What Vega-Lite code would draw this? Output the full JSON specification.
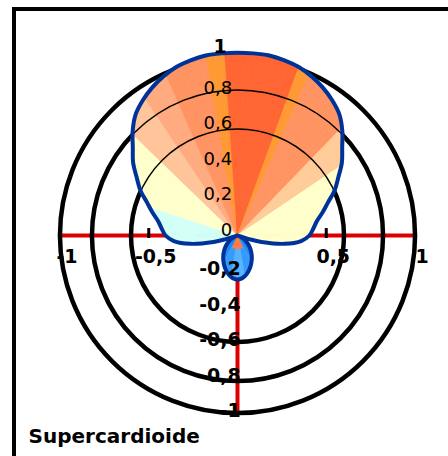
{
  "$schema": "https://vega.github.io/schema/vega-lite/v6.json",
  "width": 434,
  "height": 447,
  "autosize": {"type": "none"},
  "padding": {"left": 14, "top": 9, "right": 0, "bottom": 0},
  "background": "white",
  "config": {"view": {"stroke": null}},
  "datasets": {
    "circles": [{"r": 0.6}, {"r": 0.82}, {"r": 1.0}],
    "thin": [{"r": 0.6}, {"r": 0.82}],
    "ticks": [{"v": -0.5}, {"v": 0.5}],
    "wedges": [
      {"a": -110, "b": -108, "r": 0.023, "k": "cy"},
      {"a": -108, "b": -106, "r": 0.07, "k": "cy"},
      {"a": -106, "b": -104, "r": 0.14, "k": "cy"},
      {"a": -104, "b": -102, "r": 0.192, "k": "cy"},
      {"a": -102, "b": -100, "r": 0.244, "k": "cy"},
      {"a": -100, "b": -98, "r": 0.288, "k": "cy"},
      {"a": -98, "b": -96, "r": 0.324, "k": "cy"},
      {"a": -96, "b": -94, "r": 0.36, "k": "cy"},
      {"a": -94, "b": -92, "r": 0.378, "k": "cy"},
      {"a": -92, "b": -90, "r": 0.396, "k": "cy"},
      {"a": -90, "b": -88, "r": 0.409, "k": "cy"},
      {"a": -88, "b": -86, "r": 0.418, "k": "cy"},
      {"a": -86, "b": -84, "r": 0.428, "k": "cy"},
      {"a": -84, "b": -82, "r": 0.438, "k": "cy"},
      {"a": -82, "b": -80, "r": 0.448, "k": "cy"},
      {"a": -80, "b": -78, "r": 0.461, "k": "cy"},
      {"a": -78, "b": -76, "r": 0.478, "k": "cy"},
      {"a": -76, "b": -74, "r": 0.495, "k": "cy"},
      {"a": -74, "b": -72, "r": 0.514, "k": "cy"},
      {"a": -72, "b": -70, "r": 0.533, "k": "ye"},
      {"a": -70, "b": -68, "r": 0.554, "k": "ye"},
      {"a": -68, "b": -66, "r": 0.579, "k": "ye"},
      {"a": -66, "b": -64, "r": 0.604, "k": "ye"},
      {"a": -64, "b": -62, "r": 0.625, "k": "ye"},
      {"a": -62, "b": -60, "r": 0.646, "k": "ye"},
      {"a": -60, "b": -58, "r": 0.668, "k": "ye"},
      {"a": -58, "b": -56, "r": 0.693, "k": "ye"},
      {"a": -56, "b": -54, "r": 0.718, "k": "ye"},
      {"a": -54, "b": -52, "r": 0.739, "k": "ye"},
      {"a": -52, "b": -50, "r": 0.76, "k": "ye"},
      {"a": -50, "b": -48, "r": 0.783, "k": "ye"},
      {"a": -48, "b": -46, "r": 0.809, "k": "ye"},
      {"a": -46, "b": -44, "r": 0.835, "k": "pl"},
      {"a": -44, "b": -42, "r": 0.858, "k": "pl"},
      {"a": -42, "b": -40, "r": 0.881, "k": "pl"},
      {"a": -40, "b": -38, "r": 0.9, "k": "pl"},
      {"a": -38, "b": -36, "r": 0.915, "k": "pl"},
      {"a": -36, "b": -34, "r": 0.93, "k": "pl"},
      {"a": -34, "b": -32, "r": 0.943, "k": "pm"},
      {"a": -32, "b": -30, "r": 0.956, "k": "pm"},
      {"a": -30, "b": -28, "r": 0.967, "k": "pm"},
      {"a": -28, "b": -26, "r": 0.978, "k": "pm"},
      {"a": -26, "b": -24, "r": 0.988, "k": "pm"},
      {"a": -24, "b": -22, "r": 0.997, "k": "sa"},
      {"a": -22, "b": -20, "r": 1.006, "k": "sa"},
      {"a": -20, "b": -18, "r": 1.012, "k": "sa"},
      {"a": -18, "b": -16, "r": 1.017, "k": "sa"},
      {"a": -16, "b": -14, "r": 1.022, "k": "sa"},
      {"a": -14, "b": -12, "r": 1.025, "k": "sa"},
      {"a": -12, "b": -10, "r": 1.028, "k": "sa"},
      {"a": -10, "b": -8, "r": 1.03, "k": "st"},
      {"a": -8, "b": -6, "r": 1.03, "k": "st"},
      {"a": -6, "b": -4, "r": 1.03, "k": "st"},
      {"a": -4, "b": -2, "r": 1.03, "k": "dk"},
      {"a": -2, "b": 0, "r": 1.03, "k": "dk"},
      {"a": 0, "b": 2, "r": 1.03, "k": "dk"},
      {"a": 2, "b": 4, "r": 1.03, "k": "dk"},
      {"a": 4, "b": 6, "r": 1.03, "k": "dk"},
      {"a": 6, "b": 8, "r": 1.03, "k": "dk"},
      {"a": 8, "b": 10, "r": 1.03, "k": "dk"},
      {"a": 10, "b": 12, "r": 1.028, "k": "dk"},
      {"a": 12, "b": 14, "r": 1.025, "k": "dk"},
      {"a": 14, "b": 16, "r": 1.022, "k": "dk"},
      {"a": 16, "b": 18, "r": 1.017, "k": "dk"},
      {"a": 18, "b": 20, "r": 1.012, "k": "dk"},
      {"a": 20, "b": 22, "r": 1.006, "k": "st"},
      {"a": 22, "b": 24, "r": 0.997, "k": "st"},
      {"a": 24, "b": 26, "r": 0.988, "k": "sa"},
      {"a": 26, "b": 28, "r": 0.978, "k": "sa"},
      {"a": 28, "b": 30, "r": 0.967, "k": "sa"},
      {"a": 30, "b": 32, "r": 0.956, "k": "sa"},
      {"a": 32, "b": 34, "r": 0.943, "k": "sa"},
      {"a": 34, "b": 36, "r": 0.93, "k": "sa"},
      {"a": 36, "b": 38, "r": 0.915, "k": "sa"},
      {"a": 38, "b": 40, "r": 0.9, "k": "sa"},
      {"a": 40, "b": 42, "r": 0.881, "k": "sa"},
      {"a": 42, "b": 44, "r": 0.858, "k": "sa"},
      {"a": 44, "b": 46, "r": 0.835, "k": "pr"},
      {"a": 46, "b": 48, "r": 0.809, "k": "pr"},
      {"a": 48, "b": 50, "r": 0.783, "k": "pr"},
      {"a": 50, "b": 52, "r": 0.76, "k": "pr"},
      {"a": 52, "b": 54, "r": 0.739, "k": "pr"},
      {"a": 54, "b": 56, "r": 0.718, "k": "pr"},
      {"a": 56, "b": 58, "r": 0.693, "k": "ye"},
      {"a": 58, "b": 60, "r": 0.668, "k": "ye"},
      {"a": 60, "b": 62, "r": 0.646, "k": "ye"},
      {"a": 62, "b": 64, "r": 0.625, "k": "ye"},
      {"a": 64, "b": 66, "r": 0.604, "k": "ye"},
      {"a": 66, "b": 68, "r": 0.579, "k": "ye"},
      {"a": 68, "b": 70, "r": 0.554, "k": "ye"},
      {"a": 70, "b": 72, "r": 0.533, "k": "ye"},
      {"a": 72, "b": 74, "r": 0.514, "k": "ye"},
      {"a": 74, "b": 76, "r": 0.495, "k": "ye"},
      {"a": 76, "b": 78, "r": 0.478, "k": "ye"},
      {"a": 78, "b": 80, "r": 0.461, "k": "ye"},
      {"a": 80, "b": 82, "r": 0.448, "k": "ye"},
      {"a": 82, "b": 84, "r": 0.438, "k": "ye"},
      {"a": 84, "b": 86, "r": 0.428, "k": "ye"},
      {"a": 86, "b": 88, "r": 0.418, "k": "ye"},
      {"a": 88, "b": 90, "r": 0.409, "k": "ye"},
      {"a": 90, "b": 92, "r": 0.396, "k": "ye"},
      {"a": 92, "b": 94, "r": 0.378, "k": "ye"},
      {"a": 94, "b": 96, "r": 0.36, "k": "ye"},
      {"a": 96, "b": 98, "r": 0.324, "k": "ye"},
      {"a": 98, "b": 100, "r": 0.288, "k": "ye"},
      {"a": 100, "b": 102, "r": 0.244, "k": "ye"},
      {"a": 102, "b": 104, "r": 0.192, "k": "ye"},
      {"a": 104, "b": 106, "r": 0.14, "k": "ye"},
      {"a": 106, "b": 108, "r": 0.07, "k": "ye"},
      {"a": 108, "b": 110, "r": 0.023, "k": "ye"},
      {"a": 110, "b": 114, "r": 0.008, "k": "bd"},
      {"a": 114, "b": 118, "r": 0.024, "k": "bd"},
      {"a": 118, "b": 122, "r": 0.04, "k": "bd"},
      {"a": 122, "b": 126, "r": 0.056, "k": "bd"},
      {"a": 126, "b": 130, "r": 0.072, "k": "bd"},
      {"a": 130, "b": 134, "r": 0.088, "k": "bd"},
      {"a": 134, "b": 138, "r": 0.104, "k": "bd"},
      {"a": 138, "b": 142, "r": 0.12, "k": "bd"},
      {"a": 142, "b": 146, "r": 0.136, "k": "bd"},
      {"a": 146, "b": 150, "r": 0.152, "k": "bd"},
      {"a": 150, "b": 154, "r": 0.168, "k": "bm"},
      {"a": 154, "b": 158, "r": 0.184, "k": "bm"},
      {"a": 158, "b": 162, "r": 0.2, "k": "bm"},
      {"a": 162, "b": 166, "r": 0.215, "k": "bm"},
      {"a": 166, "b": 170, "r": 0.227, "k": "bm"},
      {"a": 170, "b": 174, "r": 0.238, "k": "bl"},
      {"a": 174, "b": 178, "r": 0.245, "k": "bl"},
      {"a": 178, "b": 182, "r": 0.248, "k": "bl"},
      {"a": 182, "b": 186, "r": 0.245, "k": "bl"},
      {"a": 186, "b": 190, "r": 0.238, "k": "bl"},
      {"a": 190, "b": 194, "r": 0.227, "k": "bm"},
      {"a": 194, "b": 198, "r": 0.215, "k": "bm"},
      {"a": 198, "b": 202, "r": 0.2, "k": "bm"},
      {"a": 202, "b": 206, "r": 0.184, "k": "bm"},
      {"a": 206, "b": 210, "r": 0.168, "k": "bm"},
      {"a": 210, "b": 214, "r": 0.152, "k": "bd"},
      {"a": 214, "b": 218, "r": 0.136, "k": "bd"},
      {"a": 218, "b": 222, "r": 0.12, "k": "bd"},
      {"a": 222, "b": 226, "r": 0.104, "k": "bd"},
      {"a": 226, "b": 230, "r": 0.088, "k": "bd"},
      {"a": 230, "b": 234, "r": 0.072, "k": "bd"},
      {"a": 234, "b": 238, "r": 0.056, "k": "bd"},
      {"a": 238, "b": 242, "r": 0.04, "k": "bd"},
      {"a": 242, "b": 246, "r": 0.024, "k": "bd"},
      {"a": 246, "b": 250, "r": 0.008, "k": "bd"},
      {"a": 158, "b": 202, "r": 0.075, "k": "fl"}
    ],
    "outline": [
      {"o": -110, "x": 0, "y": 0},
      {"o": -107, "x": -0.0669, "y": -0.0205},
      {"o": -105, "x": -0.1352, "y": -0.0362},
      {"o": -100, "x": -0.2659, "y": -0.0469},
      {"o": -95, "x": -0.3586, "y": -0.0314},
      {"o": -90, "x": -0.405, "y": 0},
      {"o": -85, "x": -0.4264, "y": 0.0373},
      {"o": -80, "x": -0.4461, "y": 0.0786},
      {"o": -75, "x": -0.4781, "y": 0.1281},
      {"o": -70, "x": -0.5093, "y": 0.1854},
      {"o": -65, "x": -0.5474, "y": 0.2552},
      {"o": -60, "x": -0.5681, "y": 0.328},
      {"o": -55, "x": -0.5882, "y": 0.4118},
      {"o": -50, "x": -0.5898, "y": 0.495},
      {"o": -45, "x": -0.5904, "y": 0.5904},
      {"o": -40, "x": -0.5734, "y": 0.6833},
      {"o": -35, "x": -0.5334, "y": 0.7619},
      {"o": -30, "x": -0.481, "y": 0.8331},
      {"o": -25, "x": -0.4175, "y": 0.8954},
      {"o": -20, "x": -0.3454, "y": 0.9491},
      {"o": -15, "x": -0.2645, "y": 0.9871},
      {"o": -10, "x": -0.1788, "y": 1.0143},
      {"o": -5, "x": -0.0898, "y": 1.0261},
      {"o": 0, "x": 0, "y": 1.03},
      {"o": 5, "x": 0.0898, "y": 1.0261},
      {"o": 10, "x": 0.1788, "y": 1.0143},
      {"o": 15, "x": 0.2645, "y": 0.9871},
      {"o": 20, "x": 0.3454, "y": 0.9491},
      {"o": 25, "x": 0.4175, "y": 0.8954},
      {"o": 30, "x": 0.481, "y": 0.8331},
      {"o": 35, "x": 0.5334, "y": 0.7619},
      {"o": 40, "x": 0.5734, "y": 0.6833},
      {"o": 45, "x": 0.5904, "y": 0.5904},
      {"o": 50, "x": 0.5898, "y": 0.495},
      {"o": 55, "x": 0.5882, "y": 0.4118},
      {"o": 60, "x": 0.5681, "y": 0.328},
      {"o": 65, "x": 0.5474, "y": 0.2552},
      {"o": 70, "x": 0.5093, "y": 0.1854},
      {"o": 75, "x": 0.4781, "y": 0.1281},
      {"o": 80, "x": 0.4461, "y": 0.0786},
      {"o": 85, "x": 0.4264, "y": 0.0373},
      {"o": 90, "x": 0.405, "y": 0},
      {"o": 95, "x": 0.3586, "y": -0.0314},
      {"o": 100, "x": 0.2659, "y": -0.0469},
      {"o": 105, "x": 0.1352, "y": -0.0362},
      {"o": 107, "x": 0.0669, "y": -0.0205},
      {"o": 110, "x": 0, "y": 0},
      {"o": 115, "x": 0.0181, "y": -0.0085},
      {"o": 120, "x": 0.0346, "y": -0.02},
      {"o": 125, "x": 0.0492, "y": -0.0344},
      {"o": 130, "x": 0.0613, "y": -0.0514},
      {"o": 135, "x": 0.0707, "y": -0.0707},
      {"o": 140, "x": 0.0771, "y": -0.0919},
      {"o": 145, "x": 0.0803, "y": -0.1147},
      {"o": 150, "x": 0.08, "y": -0.1386},
      {"o": 155, "x": 0.0761, "y": -0.1631},
      {"o": 160, "x": 0.0684, "y": -0.1879},
      {"o": 165, "x": 0.0564, "y": -0.2106},
      {"o": 170, "x": 0.0404, "y": -0.2295},
      {"o": 175, "x": 0.0213, "y": -0.2431},
      {"o": 180, "x": 0, "y": -0.248},
      {"o": 185, "x": -0.0213, "y": -0.2431},
      {"o": 190, "x": -0.0404, "y": -0.2295},
      {"o": 195, "x": -0.0564, "y": -0.2106},
      {"o": 200, "x": -0.0684, "y": -0.1879},
      {"o": 205, "x": -0.0761, "y": -0.1631},
      {"o": 210, "x": -0.08, "y": -0.1386},
      {"o": 215, "x": -0.0803, "y": -0.1147},
      {"o": 220, "x": -0.0771, "y": -0.0919},
      {"o": 225, "x": -0.0707, "y": -0.0707},
      {"o": 230, "x": -0.0613, "y": -0.0514},
      {"o": 235, "x": -0.0492, "y": -0.0344},
      {"o": 240, "x": -0.0346, "y": -0.02},
      {"o": 245, "x": -0.0181, "y": -0.0085},
      {"o": 250, "x": 0, "y": 0}
    ],
    "up": [
      {"t": "0,8", "v": 0.8},
      {"t": "0,6", "v": 0.6},
      {"t": "0,4", "v": 0.4},
      {"t": "0,2", "v": 0.2},
      {"t": "0", "v": 0}
    ],
    "down": [
      {"t": "-0,2", "v": -0.2},
      {"t": "-0,4", "v": -0.4},
      {"t": "-0,6", "v": -0.6},
      {"t": "-0,8", "v": -0.8},
      {"t": "-1", "v": -1}
    ],
    "hx": [
      {"t": "-1", "v": -1},
      {"t": "-0,5", "v": -0.5},
      {"t": "0,5", "v": 0.5},
      {"t": "1", "v": 1}
    ],
    "top": [{"t": "1", "v": 1}],
    "one": [{}]
  },
  "layer": [
    {
      "data": {"name": "one"},
      "mark": {"type": "rule", "color": "black", "strokeWidth": 4, "strokeCap": "square"},
      "encoding": {
        "x": {"datum": -1.25915, "type": "quantitative", "scale": {"domain": [-1.25915, 1.18592], "nice": false, "zero": false}, "axis": null},
        "x2": {"datum": 1.18592},
        "y": {"datum": 1.27606, "type": "quantitative", "scale": {"domain": [-1.24225, 1.27606], "nice": false, "zero": false}, "axis": null}
      }
    },
    {
      "data": {"name": "one"},
      "mark": {"type": "rule", "color": "black", "strokeWidth": 4, "strokeCap": "square"},
      "encoding": {
        "x": {"datum": -1.25915, "type": "quantitative", "scale": {"domain": [-1.25915, 1.18592], "nice": false, "zero": false}, "axis": null},
        "y": {"datum": 1.27606, "type": "quantitative", "scale": {"domain": [-1.24225, 1.27606], "nice": false, "zero": false}, "axis": null},
        "y2": {"datum": -1.24225}
      }
    },
    {
      "data": {"name": "one"},
      "mark": {"type": "rule", "color": "#DD0000", "strokeWidth": 4},
      "encoding": {
        "x": {"datum": -1, "type": "quantitative", "scale": {"domain": [-1.25915, 1.18592], "nice": false, "zero": false}, "axis": null},
        "x2": {"datum": 1},
        "y": {"datum": 0, "type": "quantitative", "scale": {"domain": [-1.24225, 1.27606], "nice": false, "zero": false}, "axis": null}
      }
    },
    {
      "data": {"name": "one"},
      "mark": {"type": "rule", "color": "#DD0000", "strokeWidth": 4},
      "encoding": {
        "x": {"datum": 0, "type": "quantitative", "scale": {"domain": [-1.25915, 1.18592], "nice": false, "zero": false}, "axis": null},
        "y": {"datum": -1, "type": "quantitative", "scale": {"domain": [-1.24225, 1.27606], "nice": false, "zero": false}, "axis": null},
        "y2": {"datum": 0}
      }
    },
    {
      "data": {"name": "circles"},
      "mark": {"type": "arc", "fill": "transparent", "stroke": "black", "strokeWidth": 4.5},
      "encoding": {
        "x": {"datum": 0, "type": "quantitative", "scale": {"domain": [-1.25915, 1.18592], "nice": false, "zero": false}, "axis": null},
        "y": {"datum": 0, "type": "quantitative", "scale": {"domain": [-1.24225, 1.27606], "nice": false, "zero": false}, "axis": null},
        "theta": {"datum": 0, "type": "quantitative", "scale": {"domain": [0, 360], "range": [0, 6.283185307179586]}},
        "theta2": {"datum": 360},
        "radius": {"field": "r", "type": "quantitative", "stack": null, "scale": {"type": "linear", "domain": [0, 1], "range": [0, 177.5], "zero": true, "nice": false}}
      }
    },
    {
      "data": {"name": "ticks"},
      "mark": {"type": "rule", "color": "black", "strokeWidth": 3},
      "encoding": {
        "x": {"field": "v", "type": "quantitative", "scale": {"domain": [-1.25915, 1.18592], "nice": false, "zero": false}, "axis": null},
        "y": {"datum": 0.042, "type": "quantitative", "scale": {"domain": [-1.24225, 1.27606], "nice": false, "zero": false}, "axis": null},
        "y2": {"datum": -0.014}
      }
    },
    {
      "data": {"name": "wedges"},
      "mark": {"type": "arc", "strokeWidth": 0.8},
      "encoding": {
        "x": {"datum": 0, "type": "quantitative", "scale": {"domain": [-1.25915, 1.18592], "nice": false, "zero": false}, "axis": null},
        "y": {"datum": 0, "type": "quantitative", "scale": {"domain": [-1.24225, 1.27606], "nice": false, "zero": false}, "axis": null},
        "theta": {"field": "a", "type": "quantitative", "scale": {"domain": [0, 360], "range": [0, 6.283185307179586]}},
        "theta2": {"field": "b"},
        "radius": {"field": "r", "type": "quantitative", "stack": null, "scale": {"type": "linear", "domain": [0, 1], "range": [0, 177.5], "zero": true, "nice": false}},
        "color": {"field": "k", "type": "nominal", "legend": null, "scale": {"domain": ["cy", "ye", "pl", "pm", "sa", "st", "dk", "pr", "bd", "bm", "bl", "fl"], "range": ["#D2FFF6", "#FFFFCC", "#FFC49A", "#FFAA7F", "#FF9462", "#FF9933", "#FF6633", "#FFCC99", "#1E88F0", "#3399FF", "#55B4FF", "#FF7A45"]}},
        "stroke": {"field": "k", "type": "nominal", "legend": null, "scale": {"domain": ["cy", "ye", "pl", "pm", "sa", "st", "dk", "pr", "bd", "bm", "bl", "fl"], "range": ["#D2FFF6", "#FFFFCC", "#FFC49A", "#FFAA7F", "#FF9462", "#FF9933", "#FF6633", "#FFCC99", "#1E88F0", "#3399FF", "#55B4FF", "#FF7A45"]}}
      }
    },
    {
      "data": {"name": "thin"},
      "mark": {"type": "arc", "fill": "transparent", "stroke": "black", "strokeWidth": 1.4},
      "encoding": {
        "x": {"datum": 0, "type": "quantitative", "scale": {"domain": [-1.25915, 1.18592], "nice": false, "zero": false}, "axis": null},
        "y": {"datum": 0, "type": "quantitative", "scale": {"domain": [-1.24225, 1.27606], "nice": false, "zero": false}, "axis": null},
        "theta": {"datum": 0, "type": "quantitative", "scale": {"domain": [0, 360], "range": [0, 6.283185307179586]}},
        "theta2": {"datum": 360},
        "radius": {"field": "r", "type": "quantitative", "stack": null, "scale": {"type": "linear", "domain": [0, 1], "range": [0, 177.5], "zero": true, "nice": false}}
      }
    },
    {
      "data": {"name": "outline"},
      "mark": {"type": "line", "color": "#003399", "strokeWidth": 4, "strokeJoin": "round", "interpolate": "catmull-rom"},
      "encoding": {
        "x": {"field": "x", "type": "quantitative", "scale": {"domain": [-1.25915, 1.18592], "nice": false, "zero": false}, "axis": null},
        "y": {"field": "y", "type": "quantitative", "scale": {"domain": [-1.24225, 1.27606], "nice": false, "zero": false}, "axis": null},
        "order": {"field": "o", "type": "quantitative"}
      }
    },
    {
      "data": {"name": "up"},
      "mark": {"type": "text", "align": "right", "baseline": "alphabetic", "font": "DejaVu Sans", "fontSize": 18, "color": "black"},
      "encoding": {
        "x": {"datum": -0.03, "type": "quantitative", "scale": {"domain": [-1.25915, 1.18592], "nice": false, "zero": false}, "axis": null},
        "y": {"field": "v", "type": "quantitative", "scale": {"domain": [-1.24225, 1.27606], "nice": false, "zero": false}, "axis": null},
        "text": {"field": "t", "type": "nominal"}
      }
    },
    {
      "data": {"name": "down"},
      "mark": {"type": "text", "align": "right", "baseline": "alphabetic", "dy": 4, "font": "DejaVu Sans", "fontWeight": "bold", "fontSize": 19, "color": "black"},
      "encoding": {
        "x": {"datum": 0.018, "type": "quantitative", "scale": {"domain": [-1.25915, 1.18592], "nice": false, "zero": false}, "axis": null},
        "y": {"field": "v", "type": "quantitative", "scale": {"domain": [-1.24225, 1.27606], "nice": false, "zero": false}, "axis": null},
        "text": {"field": "t", "type": "nominal"}
      }
    },
    {
      "data": {"name": "hx"},
      "mark": {"type": "text", "align": "center", "baseline": "alphabetic", "dx": 7, "font": "DejaVu Sans", "fontWeight": "bold", "fontSize": 19, "color": "black"},
      "encoding": {
        "x": {"field": "v", "type": "quantitative", "scale": {"domain": [-1.25915, 1.18592], "nice": false, "zero": false}, "axis": null},
        "y": {"datum": -0.155, "type": "quantitative", "scale": {"domain": [-1.24225, 1.27606], "nice": false, "zero": false}, "axis": null},
        "text": {"field": "t", "type": "nominal"}
      }
    },
    {
      "data": {"name": "top"},
      "mark": {"type": "text", "align": "center", "baseline": "alphabetic", "dy": -5, "font": "DejaVu Sans", "fontWeight": "bold", "fontSize": 19, "color": "black"},
      "encoding": {
        "x": {"datum": -0.098, "type": "quantitative", "scale": {"domain": [-1.25915, 1.18592], "nice": false, "zero": false}, "axis": null},
        "y": {"field": "v", "type": "quantitative", "scale": {"domain": [-1.24225, 1.27606], "nice": false, "zero": false}, "axis": null},
        "text": {"field": "t", "type": "nominal"}
      }
    },
    {
      "data": {"name": "one"},
      "mark": {"type": "text", "text": "Supercardioide", "align": "left", "baseline": "alphabetic", "font": "DejaVu Sans", "fontWeight": "bold", "fontSize": 20, "color": "black"},
      "encoding": {
        "x": {"datum": -1.177, "type": "quantitative", "scale": {"domain": [-1.25915, 1.18592], "nice": false, "zero": false}, "axis": null},
        "y": {"datum": -1.169, "type": "quantitative", "scale": {"domain": [-1.24225, 1.27606], "nice": false, "zero": false}, "axis": null}
      }
    }
  ]
}
